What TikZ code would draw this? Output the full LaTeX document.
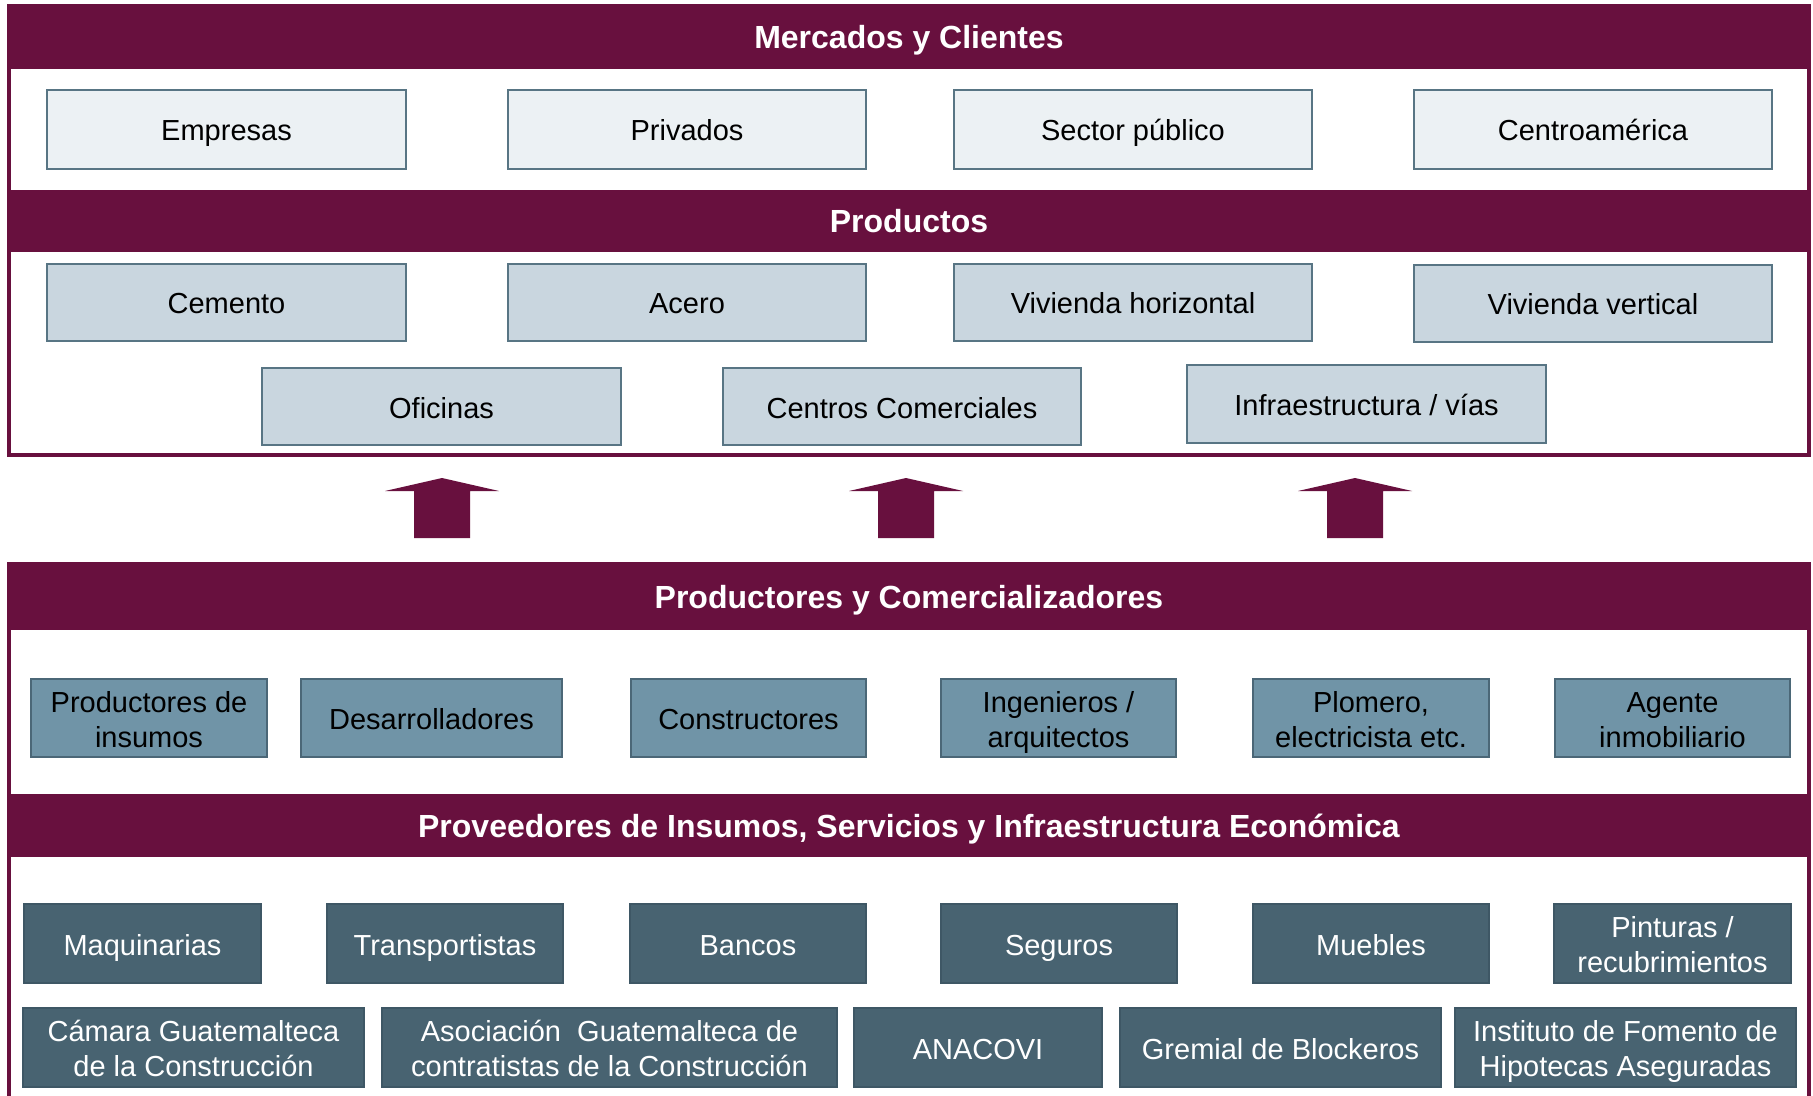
\documentclass[tikz,border=0pt]{standalone}
\usepackage{fontspec}
\setmainfont{Liberation Sans}
\definecolor{maroon}{HTML}{68103E}
\definecolor{lightfill}{HTML}{ECF1F4}
\definecolor{midfill}{HTML}{C9D6DF}
\definecolor{boxline}{HTML}{587584}
\definecolor{steelfill}{HTML}{7094A7}
\definecolor{steelline}{HTML}{4B6777}
\definecolor{darkfill}{HTML}{486371}
\definecolor{darkline}{HTML}{3E5765}
\newcommand\bx[7]{\node[#6, minimum width={(#4-#2)*0.5pt}, minimum height={(#5-#3)*0.5pt}] (#1) at ({(#2+#4)/2},{(#3+#5)/2}) {#7};}
\newcommand\uparr[2]{%
  \coordinate (#1) at (#2,478);
  \fill[maroon] (#1) -- ++(57,13) -- ++(-29,0) -- ++(0,47) -- ++(-56,0) -- ++(0,-47) -- ++(-29,0) -- cycle;}
\begin{document}
\begin{tikzpicture}[x=0.5pt,y=-0.5pt,
  base/.style={rectangle, inner sep=0pt, align=center, font=\fontsize{14.5}{17.5}\selectfont, text height=11.5pt, text depth=0pt},
  two/.style={text height=29pt, text depth=0pt},
  light/.style={base, draw=boxline, line width=1pt, fill=lightfill, text=black},
  mid/.style={base, draw=boxline, line width=1pt, fill=midfill, text=black},
  steel/.style={base, draw=steelline, line width=1pt, fill=steelfill, text=black},
  dark/.style={base, draw=darkline, line width=0.6pt, fill=darkfill, text=white},
  band/.style={rectangle, inner sep=0pt, fill=maroon, text=white, font=\fontsize{16}{19}\selectfont\bfseries, text height=11.5pt, text depth=0pt},
  frame/.style={draw=maroon, line width=2pt}]
\useasboundingbox (0,0) rectangle (1813,1096);
\fill[white] (0,0) rectangle (1813,1096);

% top frame
\draw[frame] (9,6) rectangle (1809,455);
\bx{mercados}{8}{5}{1810}{69}{band}{Mercados y Clientes}
\bx{empresas}{47}{90}{406}{169}{light}{Empresas}
\bx{privados}{508}{90}{866}{169}{light}{Privados}
\bx{sector}{954}{90}{1312}{169}{light}{Sector público}
\bx{centro}{1414}{90}{1772}{169}{light}{Centroamérica}

\bx{productos}{8}{190}{1810}{252}{band}{Productos}
\bx{cemento}{47}{264}{406}{341}{mid}{Cemento}
\bx{acero}{508}{264}{866}{341}{mid}{Acero}
\bx{vivh}{954}{264}{1312}{341}{mid}{Vivienda horizontal}
\bx{vivv}{1414}{265}{1772}{342}{mid}{Vivienda vertical}
\bx{oficinas}{262}{368}{621}{445}{mid}{Oficinas}
\bx{centros}{723}{368}{1081}{445}{mid}{Centros Comerciales}
\bx{infra}{1187}{365}{1546}{443}{mid}{Infraestructura / vías}

% arrows
\uparr{a1}{442}
\uparr{a2}{906}
\uparr{a3}{1355}

% bottom frame
\draw[frame] (9,1100) -- (9,564) -- (1809,564) -- (1809,1100);
\bx{productores}{8}{563}{1810}{630}{band}{Productores y Comercializadores}
\bx{pinsumos}{31}{679}{267}{757}{steel,two}{Productores de\\insumos}
\bx{desarr}{301}{679}{562}{757}{steel}{Desarrolladores}
\bx{constr}{631}{679}{866}{757}{steel}{Constructores}
\bx{ingen}{941}{679}{1176}{757}{steel,two}{Ingenieros /\\arquitectos}
\bx{plomero}{1253}{679}{1489}{757}{steel,two}{Plomero,\\electricista etc.}
\bx{agente}{1555}{679}{1790}{757}{steel,two}{Agente\\inmobiliario}

\bx{proveedores}{8}{794}{1810}{857}{band}{Proveedores de Insumos, Servicios y Infraestructura Económica}
\bx{maquin}{24}{904}{261}{983}{dark}{Maquinarias}
\bx{transp}{327}{904}{563}{983}{dark}{Transportistas}
\bx{bancos}{630}{904}{866}{983}{dark}{Bancos}
\bx{seguros}{941}{904}{1177}{983}{dark}{Seguros}
\bx{muebles}{1253}{904}{1489}{983}{dark}{Muebles}
\bx{pinturas}{1554}{904}{1791}{983}{dark,two}{Pinturas /\\recubrimientos}
\bx{camara}{23}{1008}{364}{1087}{dark,two}{Cámara Guatemalteca\\de la Construcción}
\bx{asoc}{382}{1008}{837}{1087}{dark,two}{Asociación\ \ Guatemalteca de\\contratistas de la Construcción}
\bx{anacovi}{854}{1008}{1102}{1087}{dark}{ANACOVI}
\bx{gremial}{1120}{1008}{1441}{1087}{dark}{Gremial de Blockeros}
\bx{instituto}{1455}{1008}{1796}{1087}{dark,two}{Instituto de Fomento de\\Hipotecas Aseguradas}
\end{tikzpicture}
\end{document}
